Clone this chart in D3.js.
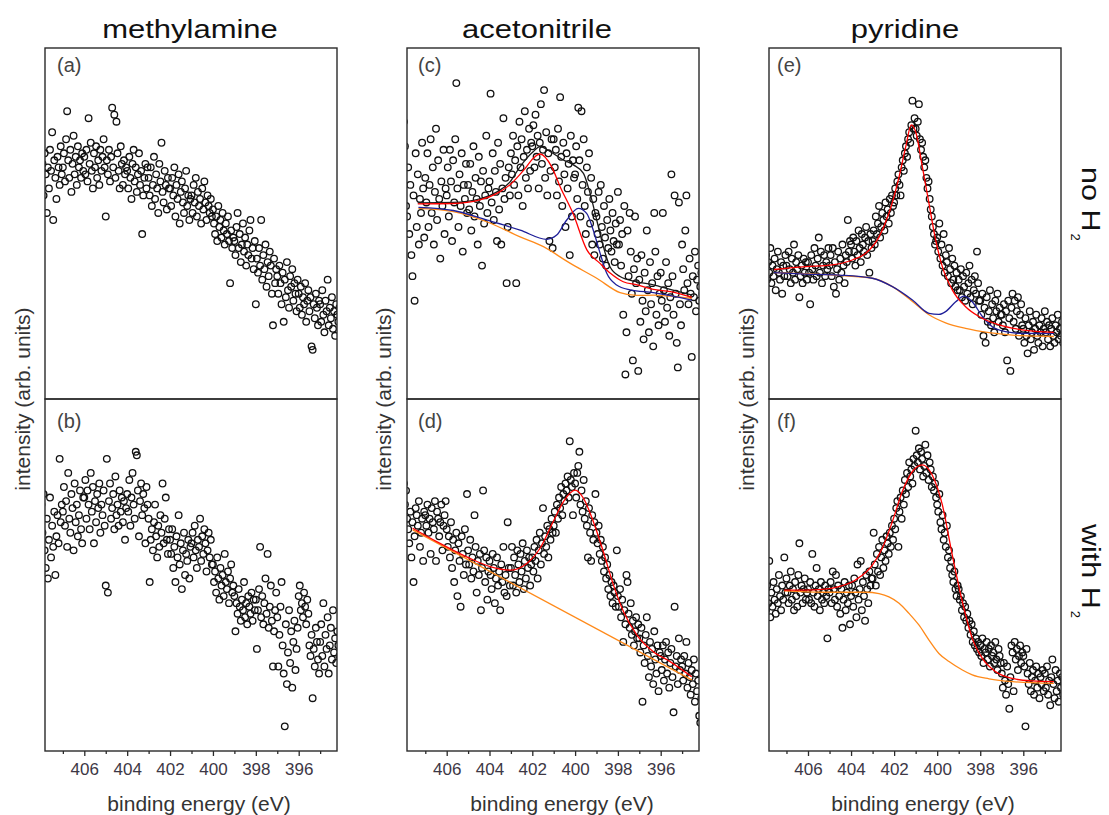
<!DOCTYPE html>
<html>
<head>
<meta charset="utf-8">
<script src="https://cdn.jsdelivr.net/npm/d3@7"></script>
<style>
  body { margin: 0; background: #fff; }
  text { font-family: "Liberation Sans", Arial, sans-serif; }
</style>
</head>
<body>
<svg id="chart" width="1109" height="815"></svg>
<script>
// energy grid of the spectra (eV), first point and step
var eStart = 408, eStep = 0.05;

// intensities, % of panel height, 20 points per eV
var ptsA = [
  62,67,58,70,64,53,66,60,71,65,76,51,68,63,57,69,66,61,72,64,
  66,70,62,74,82,68,63,71,59,67,75,64,69,61,72,66,68,63,70,65,
  69,64,71,62,80,67,73,65,60,70,66,72,63,68,61,71,65,69,74,66,
  52,68,64,71,62,69,83,66,81,63,79,70,65,60,72,67,61,68,64,66,
  65,60,69,63,57,67,71,62,66,59,64,70,61,65,47,58,63,67,60,66,
  63,58,66,55,61,69,57,64,60,53,67,62,73,59,56,65,61,54,63,60,
  60,55,63,58,66,52,61,57,64,50,59,62,56,53,60,65,55,58,51,57,
  58,53,61,56,63,52,59,55,57,50,60,54,62,56,51,58,55,53,57,52,
  54,50,47,52,45,55,49,51,46,53,48,44,50,47,52,45,33,48,43,46,
  45,41,49,53,43,47,39,44,50,42,46,38,44,41,48,51,40,43,37,45,
  27,40,36,43,38,51,34,41,37,44,32,39,35,42,38,30,21,40,33,37,
  35,30,38,33,27,36,22,34,29,39,31,26,35,32,37,28,33,30,25,34,
  30,26,32,24,29,27,33,22,28,31,25,29,15,14,27,23,30,26,21,28,
  27,22,31,24,19,28,25,34,21,26,23,29,20,25,18,27,24,22,26,23
];
var ptsB = [
  70,62,73,57,52,66,49,60,72,55,64,58,68,50,61,67,59,83,65,70,
  68,75,64,71,58,79,66,62,73,69,57,76,65,70,61,67,74,63,59,72,
  72,77,66,74,70,63,79,68,75,59,71,65,73,69,76,62,70,67,74,64,
  47,83,45,71,76,66,69,73,63,78,67,70,64,74,68,72,65,71,60,69,
  73,68,77,64,72,79,70,66,85,84,74,61,71,76,67,73,69,59,75,70,
  66,48,60,63,57,65,70,61,55,64,58,67,62,76,59,66,72,60,56,63,
  60,56,63,52,58,48,61,55,67,53,59,46,57,62,50,56,54,60,49,58,
  59,62,55,64,57,52,60,58,66,54,61,56,63,59,51,57,62,55,60,53,
  53,48,51,45,55,49,43,52,47,50,44,56,48,46,51,42,49,53,45,47,
  44,34,42,39,46,41,37,43,40,48,38,42,36,44,41,39,45,37,43,40,
  43,29,40,46,58,38,44,36,42,49,39,56,35,41,47,37,24,34,40,45,
  38,24,33,41,48,30,22,7,36,19,28,40,25,34,18,31,37,23,29,35,
  44,47,40,42,38,45,41,36,43,39,30,27,33,15,29,24,35,31,26,22,
  31,36,27,42,24,33,29,38,22,30,35,26,40,28,32,25,34,30,27,31
];
var ptsC = [
  79,72,55,52,66,47,61,41,35,58,28,70,49,64,44,57,53,73,60,46,
  63,56,70,49,61,74,53,66,44,59,77,51,68,57,40,62,55,71,47,60,
  58,66,52,71,62,45,68,56,74,90,60,49,64,55,70,42,61,57,67,53,
  61,54,67,48,59,72,52,63,57,44,69,55,62,38,65,50,58,75,53,60,
  62,87,56,70,51,65,59,45,73,54,67,44,60,80,57,63,33,49,66,58,
  70,64,75,61,68,33,72,58,79,66,74,55,69,82,63,71,60,77,65,73,
  72,78,66,81,69,75,60,73,84,67,71,88,63,76,58,70,45,65,74,43,
  74,66,71,58,77,62,86,69,55,73,64,49,70,60,67,41,75,52,68,63,
  64,72,57,83,68,52,82,61,74,55,47,66,59,70,50,63,44,57,41,53,
  52,47,59,44,61,49,40,55,46,38,51,43,57,48,42,53,45,39,50,44,
  59,44,51,38,47,24,55,7,19,48,35,53,42,30,11,37,52,33,40,8,
  34,22,41,28,17,36,25,48,31,19,39,27,33,15,53,42,24,35,21,30,
  36,28,53,31,22,39,26,33,18,29,64,35,24,58,30,16,9,56,27,21,
  44,37,31,48,58,33,27,40,30,12,35,29,42,25,34,38,28,32,36,30
];
var ptsD = [
  76,70,74,66,63,59,68,55,65,48,61,69,67,64,71,58,62,66,54,68,
  67,64,70,62,66,56,69,65,63,71,54,68,66,61,65,70,57,64,67,71,
  63,58,61,55,65,52,60,48,57,62,44,59,54,41,61,56,50,63,53,73,
  57,53,60,49,55,51,67,58,45,54,50,56,40,52,74,57,48,55,43,51,
  54,50,46,56,52,42,49,55,47,51,40,53,48,58,45,50,44,65,52,47,
  52,58,47,55,50,45,57,53,48,56,51,59,46,54,49,57,52,55,47,53,
  55,51,58,54,60,49,57,62,53,59,69,56,61,58,64,55,63,60,66,62,
  64,68,62,70,66,72,69,75,67,73,71,76,74,78,72,88,77,75,67,79,
  76,72,79,81,85,70,74,68,77,66,71,64,55,69,62,54,67,60,65,73,
  62,59,64,56,60,54,58,51,55,49,53,46,50,44,48,42,47,45,41,57,
  44,41,46,38,43,31,40,36,50,48,39,35,42,33,37,30,34,38,32,36,
  32,28,35,14,30,25,33,38,27,21,31,24,29,19,34,26,22,30,17,28,
  27,23,30,20,26,31,22,28,18,25,29,21,11,41,24,27,19,32,23,26,
  24,20,27,22,31,18,25,21,16,23,19,26,14,22,17,20,10,8,15,12
];
var ptsE = [
  37,41,34,39,36,43,33,38,35,40,31,37,42,36,34,39,30,38,35,41,
  38,35,42,37,33,40,36,44,34,39,37,41,29,35,38,33,40,36,39,34,
  39,36,27,41,37,34,43,38,35,40,46,36,42,33,38,41,35,39,37,43,
  38,41,35,43,32,39,30,37,42,34,40,36,44,38,33,41,39,51,42,45,
  44,40,46,42,38,45,41,48,43,39,47,44,42,46,49,41,45,36,47,43,
  45,48,44,52,47,50,55,46,49,53,51,48,56,52,54,50,57,53,58,55,
  56,60,58,62,64,61,58,66,68,65,70,72,69,74,76,73,78,85,77,80,
  77,75,79,84,74,71,73,69,66,68,63,60,62,57,54,52,49,47,44,45,
  46,42,50,40,44,38,47,36,41,39,35,43,37,33,40,34,38,32,36,31,
  34,31,37,29,35,32,28,36,30,33,38,29,34,27,31,35,30,42,33,28,
  28,24,30,18,26,16,29,22,25,31,21,27,23,19,28,25,30,22,26,24,
  24,21,27,19,25,11,28,23,8,26,30,22,28,20,25,29,18,24,27,21,
  20,16,23,18,13,21,25,17,19,22,14,20,24,18,16,21,19,23,15,20,
  25,19,22,17,21,15,20,23,18,16,21,19,24,17,20,18,22,16,19,21
];
var ptsF = [
  44,40,47,42,54,38,45,41,48,43,39,46,42,50,44,40,47,43,55,45,
  49,45,42,47,51,43,46,40,48,44,41,50,59,45,47,42,46,49,43,45,
  46,43,48,42,56,45,41,47,52,44,46,40,48,43,45,42,47,44,32,46,
  45,48,42,51,46,43,50,41,47,44,39,46,35,43,48,40,45,42,47,36,
  44,47,41,49,45,38,53,43,46,54,40,48,44,37,50,46,42,51,47,49,
  49,62,53,47,56,51,58,50,55,60,52,57,54,61,59,56,62,58,64,60,
  66,63,69,71,58,68,72,66,74,70,77,73,79,75,82,78,80,76,83,81,
  91,84,82,86,80,85,83,78,81,87,79,84,77,82,80,75,78,74,76,72,
  70,68,73,65,63,67,60,62,58,64,55,57,52,54,50,48,51,46,44,47,
  46,43,44,40,42,38,41,37,39,35,37,33,36,31,34,30,32,29,31,28,
  30,27,32,25,29,28,31,26,29,24,30,27,28,25,31,26,23,29,27,25,
  22,18,25,20,16,24,19,12,21,30,28,17,31,26,29,23,27,30,25,28,
  27,24,7,29,22,19,25,17,21,23,16,20,24,18,22,15,21,19,23,17,
  22,18,24,16,20,13,21,26,19,15,23,17,20,14,22,18,21,16,19,20
];

// fitted components, [energy, intensity]
var fitCRed = [[407.35,55.6],[405.7,55.7],[404.45,56.7],[403.65,58.6],[403.05,61],[402.4,65.2],[401.95,68.6],[401.64,69.8],[401.1,66.2],[400.7,60.5],[400.1,52.9],[399.45,42.5],[398.85,38.7],[398.35,35.8],[397.75,33.4],[397.1,32.5],[396.35,31.2],[395.55,30.6],[394.55,29]];
var fitCBlack = [[407.35,55.9],[405.7,56],[404.45,57],[403.65,59],[403.05,61.8],[402.57,66.2],[401.95,70.5],[401.64,71.9],[401.17,70.5],[400.55,68.1],[400.08,66.7],[399.61,64.3],[399.3,58.6],[398.99,51],[398.68,43.4],[398.37,37.7],[397.9,34.9],[397.12,33.4],[396.34,32.5],[395.56,31.2],[394.55,29.6]];
var fitCBlue = [[407.32,54.6],[405.69,53.7],[404.13,51],[402.57,48.1],[401.33,45.5],[400.86,46.7],[400.39,51],[399.85,54.3],[399.46,52.9],[399.15,48.1],[398.83,41.5],[398.52,35.8],[398.06,32.5],[397.43,31.1],[396.34,30.3],[394.55,28.2]];
var fitCOrange = [[407.32,54.3],[405.69,53.4],[404.13,50.5],[402.57,46.2],[401.48,43.4],[400.24,38.7],[398.99,34.4],[397.9,30.3],[397.12,29.5],[396.34,29.6],[395.56,29.3],[394.55,28.7]];
var fitDRed = [[407.59,63.3],[406.47,59.5],[404.91,54.7],[403.98,52.4],[403.04,51.4],[402.26,53.3],[401.64,57.6],[401.02,65.2],[400.55,70.8],[400,74.1],[399.61,71.8],[399.15,65.2],[398.68,56.6],[398.21,47.2],[397.74,39.6],[397.12,33],[396.34,28.2],[395.56,25.4],[394.55,21.1]];
var fitDOrange = [[407.59,62.8],[394.55,20.2]];
var fitERed = [[407.58,36.9],[406.11,37.7],[404.87,38.2],[403.94,39.6],[403.32,41.5],[402.7,46.2],[402.24,52.9],[401.77,63.3],[401.46,71.9],[401.2,78.1],[400.98,75.7],[400.69,66.2],[400.38,55.7],[400.07,45.3],[399.76,37.7],[399.3,31.1],[398.68,26.3],[398.06,23.5],[397.13,21.1],[396.05,19.7],[394.58,19]];
var fitEBlue = [[407.58,36],[406.11,35.6],[404.56,35.3],[403.01,34.4],[402.08,32],[401.15,28.2],[400.38,24.4],[399.92,24.1],[399.61,24.9],[399.14,27.7],[398.76,29.3],[398.37,27.7],[397.9,23.5],[397.44,20.6],[396.82,19.2],[396.05,18.7],[394.58,18.7]];
var fitEOrange = [[407.58,36],[404.56,35.2],[403.01,34.4],[402.08,32],[401.15,27.8],[400.38,24],[399.61,21.7],[398.68,20.1],[397.59,18.9],[396.51,18.2],[395.27,17.9],[394.58,17.8]];
var fitFRed = [[407.11,45.7],[406.11,45.7],[405.33,45.9],[404.56,46.7],[403.79,48.6],[403.01,52.8],[402.55,57.6],[402.08,65.2],[401.62,73.7],[401.15,79.4],[400.69,81.3],[400.23,78.4],[399.76,69.9],[399.3,55.7],[398.83,42.4],[398.37,32],[397.9,26.3],[397.28,22.5],[396.51,20.6],[395.58,19.9],[394.58,19.7]];
var fitFOrange = [[407.11,45.5],[405.33,45.1],[403.32,45.1],[402.7,44.7],[402.24,43.8],[401.77,42],[401.31,39.1],[400.85,35.8],[400.38,31.5],[399.92,27.7],[399.45,25.4],[398.83,23],[398.37,21.6],[397.59,20.5],[396.51,19.7],[394.58,19.2]];

var titles = ['methylamine', 'acetonitrile', 'pyridine'];
var panelLabels = [['(a)', '(b)'], ['(c)', '(d)'], ['(e)', '(f)']];
var rowNames = [['no H', '2'], ['with H', '2']];
var majorTicks = [406, 404, 402, 400, 398, 396];
var minorTicks = [407, 405, 403, 401, 399, 397, 395];

var red = '#ff0000', blue = '#1f1f99', orange = '#ff8a1a', black = '#1a1a1a';

var panels = [
  {col: 0, row: 0, pts: ptsA, fits: []},
  {col: 0, row: 1, pts: ptsB, fits: []},
  {col: 1, row: 0, pts: ptsC, fits: [[fitCOrange, orange], [fitCBlue, blue], [fitCBlack, black], [fitCRed, red]]},
  {col: 1, row: 1, pts: ptsD, fits: [[fitDOrange, orange], [fitDRed, red]]},
  {col: 2, row: 0, pts: ptsE, fits: [[fitEOrange, orange], [fitEBlue, blue], [fitERed, red]]},
  {col: 2, row: 1, pts: ptsF, fits: [[fitFOrange, orange], [fitFRed, red]]}
];

// layout
var colLeft = [45, 407, 769], panelW = 292;
var rowTop = [48, 399], rowBottom = [399, 751];
var tickPos = [[84.3, 298.7], [446.7, 660.7], [808, 1023.3]]; // pixel x of 406 and 396 eV
var titleX = [190, 537, 905];
var xLabelX = [199, 562, 923];
var yLabelX = [30, 391, 754];
var labelDx = [12, 11, 8], labelY = [72, 428];

var svg = d3.select('#chart');
svg.append('rect').attr('width', 1109).attr('height', 815).attr('fill', '#fff');

var xScales = tickPos.map(function(t){
    return d3.scaleLinear().domain([406, 396]).range(t);
});

panels.forEach(function(p, k){
    var x = xScales[p.col];
    var x0 = colLeft[p.col], y0 = rowTop[p.row], y1 = rowBottom[p.row];
    var y = d3.scaleLinear().domain([0, 100]).range([y1, y0]);

    svg.append('clipPath').attr('id', 'clip' + k)
        .append('rect')
        .attr('x', x0).attr('y', y0)
        .attr('width', panelW).attr('height', y1 - y0);

    var g = svg.append('g').attr('clip-path', 'url(#clip' + k + ')');

    g.selectAll('circle')
        .data(p.pts)
        .enter()
        .append('circle')
        .attr('cx', function(d, i){ return x(eStart - i * eStep); })
        .attr('cy', function(d){ return y(d); })
        .attr('r', 3.3)
        .attr('fill', 'none')
        .attr('stroke', '#111')
        .attr('stroke-width', 1.3);

    var line = d3.line()
        .x(function(d){ return x(d[0]); })
        .y(function(d){ return y(d[1]); })
        .curve(d3.curveMonotoneX);

    p.fits.forEach(function(f){
        g.append('path')
            .attr('d', line(f[0]))
            .attr('fill', 'none')
            .attr('stroke', f[1])
            .attr('stroke-width', 1.3);
    });

    svg.append('rect')
        .attr('x', x0).attr('y', y0)
        .attr('width', panelW).attr('height', y1 - y0)
        .attr('fill', 'none')
        .attr('stroke', '#2a2a2a')
        .attr('stroke-width', 1.4);

    svg.append('text')
        .attr('x', x0 + labelDx[p.col])
        .attr('y', labelY[p.row])
        .attr('font-size', 20)
        .attr('fill', '#444')
        .text(panelLabels[p.col][p.row]);
});

// bottom axes, titles and axis labels per column
[0, 1, 2].forEach(function(c){
    var x = xScales[c];

    var major = svg.append('g')
        .attr('transform', 'translate(0,751)')
        .call(d3.axisBottom(x).tickValues(majorTicks).tickSize(5).tickPadding(7).tickFormat(d3.format('d')));
    var minor = svg.append('g')
        .attr('transform', 'translate(0,751)')
        .call(d3.axisBottom(x).tickValues(minorTicks).tickSize(3).tickFormat(''));
    [major, minor].forEach(function(a){
        a.select('.domain').remove();
        a.selectAll('line').attr('stroke', '#2a2a2a').attr('stroke-width', 1.3);
    });
    major.attr('font-family', null).attr('font-size', null);
    major.selectAll('text')
        .attr('font-size', 17)
        .attr('fill', '#3d3745');

    svg.append('text')
        .attr('transform', 'translate(' + titleX[c] + ',38) scale(1.24,1)')
        .attr('text-anchor', 'middle')
        .attr('font-size', 25)
        .attr('fill', '#111')
        .text(titles[c]);

    svg.append('text')
        .attr('x', xLabelX[c])
        .attr('y', 811)
        .attr('text-anchor', 'middle')
        .attr('font-size', 21)
        .attr('fill', '#333')
        .text('binding energy (eV)');

    svg.append('text')
        .attr('transform', 'translate(' + yLabelX[c] + ',399) rotate(-90)')
        .attr('text-anchor', 'middle')
        .attr('font-size', 21)
        .attr('fill', '#333')
        .text('intensity (arb. units)');
});

// row labels on the right, read top to bottom; subscript sits on the baseline side
var rowLabelY = [167, 524];
var labelStretch = 1.22;
rowNames.forEach(function(r, i){
    var main = svg.append('text')
        .attr('transform', 'translate(1082,' + rowLabelY[i] + ') rotate(90) scale(' + labelStretch + ',1)')
        .attr('font-size', 25)
        .attr('fill', '#111')
        .text(r[0]);
    var len = main.node().getComputedTextLength() * labelStretch;
    svg.append('text')
        .attr('transform', 'translate(1071,' + (rowLabelY[i] + len + 2) + ') rotate(90)')
        .attr('font-size', 13)
        .attr('fill', '#111')
        .text(r[1]);
});
</script>
</body>
</html>
